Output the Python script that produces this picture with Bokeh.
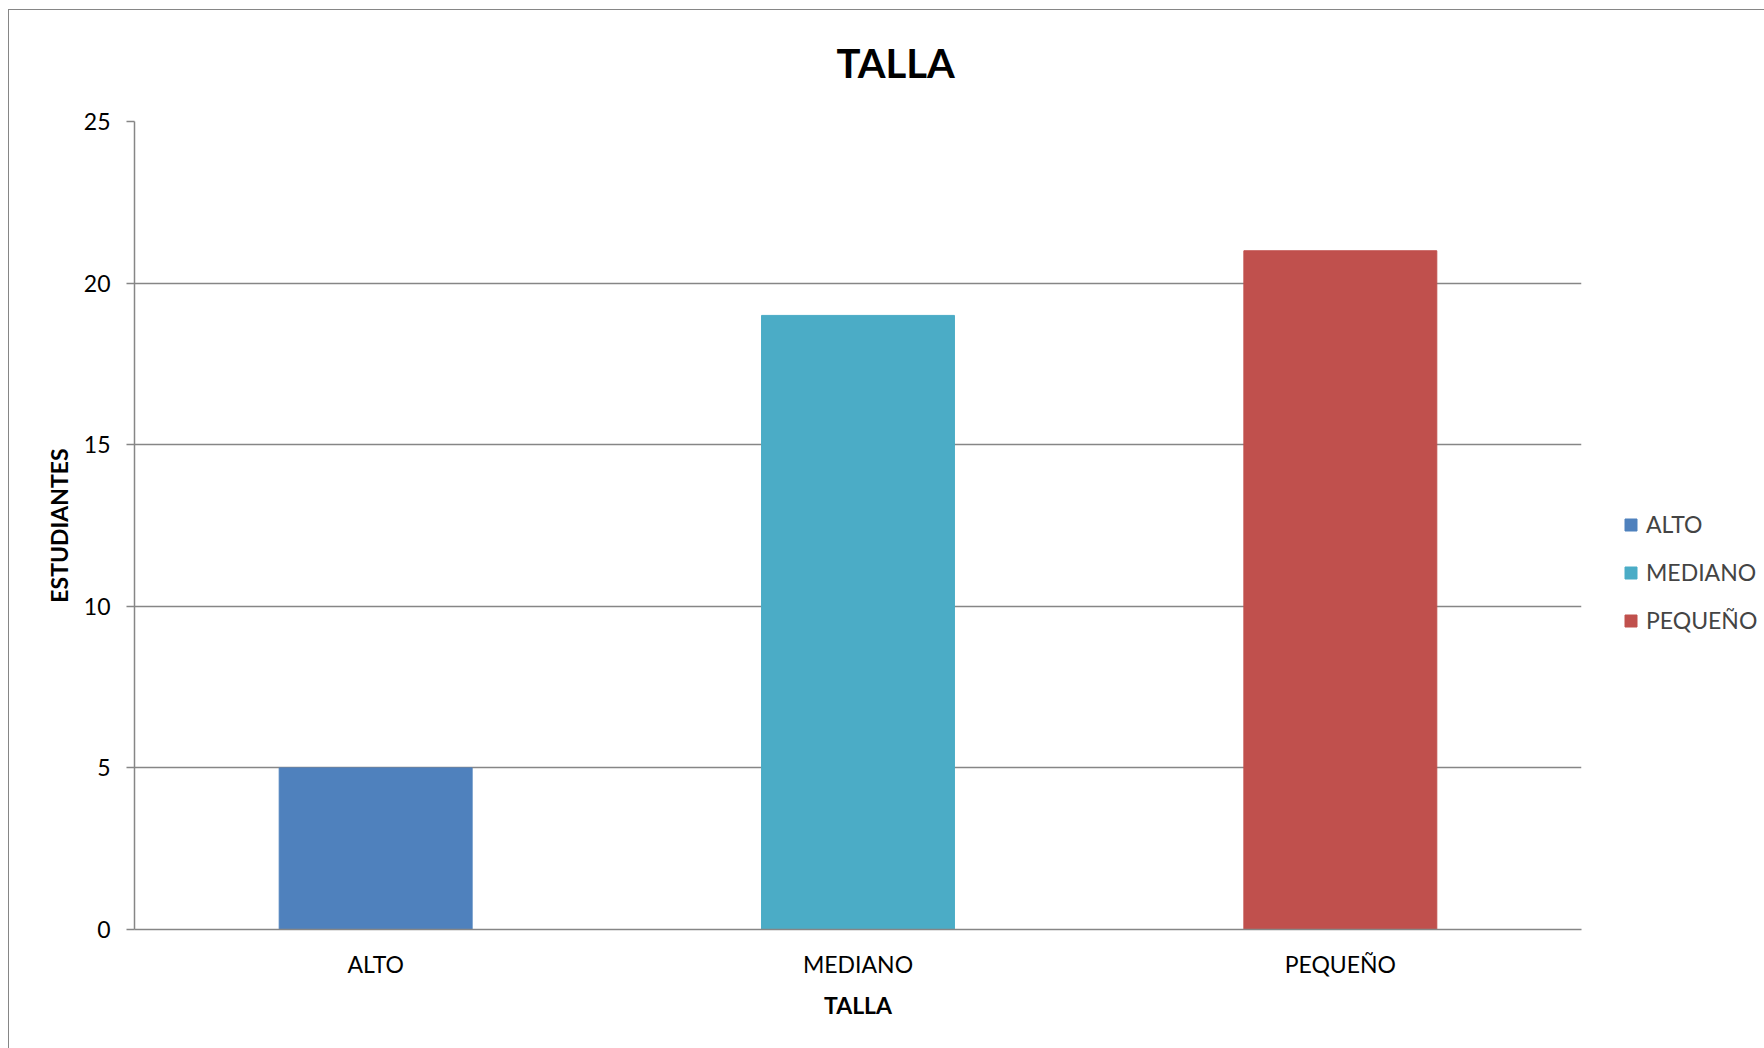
from bokeh.plotting import figure
from bokeh.layouts import row
from bokeh.models import (ColumnDataSource, FactorRange, Range1d, FixedTicker,
                          Title, InlineStyleSheet)
from bokeh.embed import file_html
from bokeh.resources import INLINE

categories = ["ALTO", "MEDIANO", "PEQUEÑO"]
values = [5, 19, 21]
colors = ["#4F81BD", "#4BACC6", "#C0504D"]
y_ticks = [0, 5, 10, 15, 20, 25]
title_text = "TALLA"
x_title = "TALLA"
y_title = "ESTUDIANTES"

FONT = "Lato"
GRAY = "#868686"

src = ColumnDataSource(dict(cat=categories, val=values, color=colors))

p = figure(width=1590, height=1048, x_range=FactorRange(*categories, range_padding=0),
           y_range=Range1d(0, 25), output_backend="svg", toolbar_location=None,
           min_border_left=134, min_border_right=9, min_border_top=121, min_border_bottom=119)
p.outline_line_color = None
p.background_fill_color = "white"
p.border_fill_color = "white"

r = p.vbar(x="cat", top="val", width=0.4, color="color", source=src)

p.title = Title(text=title_text, text_font=FONT, text_font_size="40px", text_font_style="bold",
                align="left", offset=702, standoff=70, text_color="black")

# axes
p.xgrid.grid_line_color = None
p.ygrid.grid_line_color = GRAY
p.ygrid.grid_line_width = 1.5
p.yaxis.ticker = FixedTicker(ticks=y_ticks)
for ax in (p.xaxis[0], p.yaxis[0]):
    ax.axis_line_color = GRAY
    ax.axis_line_width = 1.5
    ax.major_tick_line_color = GRAY
    ax.major_tick_line_width = 1.5
    ax.minor_tick_line_color = None
    ax.major_label_text_font = FONT
    ax.major_label_text_font_size = "23px"
    ax.major_label_text_color = "black"
    ax.axis_label_text_font = FONT
    ax.axis_label_text_font_size = "23px"
    ax.axis_label_text_font_style = "bold"
    ax.axis_label_text_color = "black"
p.yaxis.major_tick_out = 8
p.yaxis.major_tick_in = 0
p.yaxis.major_label_standoff = 16
p.yaxis.axis_label = y_title
p.yaxis.axis_label_standoff = 8
p.xaxis.major_tick_out = 0
p.xaxis.major_tick_in = 0
p.xaxis.major_label_standoff = 20
p.xaxis.axis_label = x_title
p.xaxis.axis_label_standoff = 10

p.stylesheets = [InlineStyleSheet(css=""":host::after {
  content: ""; position: absolute; left: 8px; top: 9px; right: 0; bottom: 0;
  border-left: 1.5px solid #868686; border-top: 1.5px solid #868686;
  pointer-events: none; z-index: 100;
}""")]

# legend panel: a small figure to the right of the chart; its (muted, invisible) bars
# only feed the legend
lg = figure(width=174, height=1048, x_range=FactorRange(*categories), y_range=Range1d(-2, -1),
            x_axis_type=None, y_axis_type=None, output_backend="svg", toolbar_location=None,
            min_border=0, min_border_left=0, min_border_right=0, min_border_top=0, min_border_bottom=0)
lg.outline_line_color = None
lg.grid.visible = False
lg.border_fill_color = "white"
lr = lg.vbar(x="cat", top="val", width=0.4, color="color", source=src, legend_field="cat",
             muted_alpha=0)
lr.muted = True
legend = lg.legend[0]
legend.location = (33, 294)
legend.glyph_width = 15
legend.glyph_height = 15
legend.label_height = 30
legend.spacing = 18
legend.padding = 0
legend.margin = 0
legend.border_line_alpha = 0
legend.background_fill_alpha = 0
legend.label_text_font = FONT
legend.label_text_font_size = "23px"
legend.label_standoff = 8
lg.stylesheets = [InlineStyleSheet(css=""":host::after {
  content: ""; position: absolute; left: 0; top: 9px; right: 0; bottom: 0;
  border-top: 1.5px solid #868686;
  pointer-events: none; z-index: 100;
}""")]

layout = row(p, lg, spacing=0)
open("out.html", "w").write(file_html(layout, INLINE))
